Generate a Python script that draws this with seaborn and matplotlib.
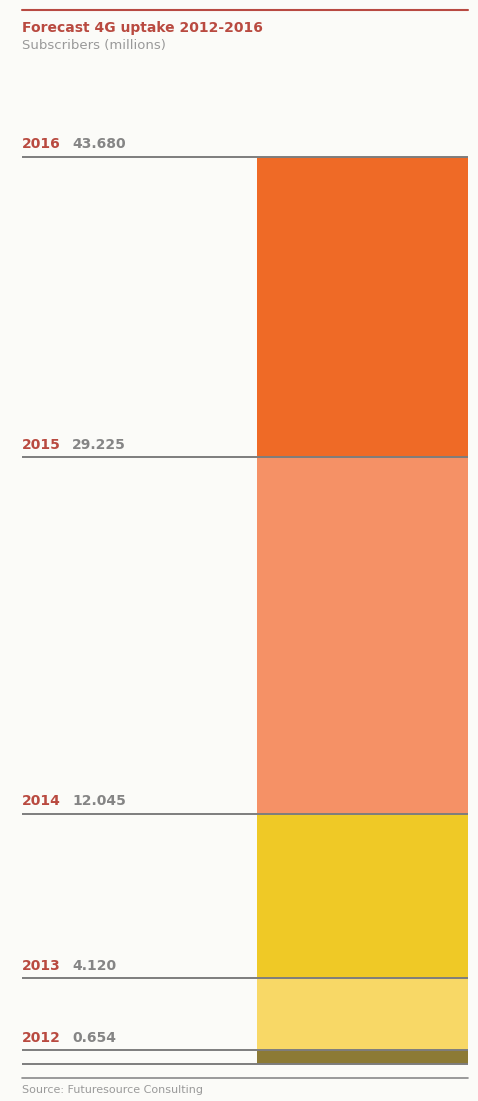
import matplotlib
matplotlib.use("Agg")
import matplotlib.pyplot as plt
import seaborn as sns
import pandas as pd

# Data: cumulative 4G subscribers (millions)
years = ["2012", "2013", "2014", "2015", "2016"]
subscribers = [0.654, 4.120, 12.045, 29.225, 43.680]
value_labels = ["0.654", "4.120", "12.045", "29.225", "43.680"]
seg_colors = ["#8c7a35", "#f8d866", "#efc926", "#f59166", "#ef6a26"]

sns.set_style("white")
plt.rcParams["font.family"] = ["DejaVu Sans"]

bg = "#fbfbf8"
red = "#b94a40"
grey = "#858585"
line_grey = "#7d7d7d"

W, H = 478, 1101
fig = plt.figure(figsize=(W / 100, H / 100), dpi=100, facecolor=bg)

# axes spans x 22..468 px, y 0 at ~1064 px, 43.68 at 157 px
y0_px, ytop_px = 1064, 157
ax_left, ax_right = 22, 468
ax_top_px = 150
ax_bot_px = 1070
scale = (y0_px - ytop_px) / subscribers[-1]
ymax = (y0_px - ax_top_px) / scale
ymin = -(ax_bot_px - y0_px) / scale
ax = fig.add_axes([ax_left / W, 1 - ax_bot_px / H, (ax_right - ax_left) / W,
                   (ax_bot_px - ax_top_px) / H])
ax.set_facecolor(bg)

df = pd.DataFrame({"year": years, "subscribers": subscribers})

# layered bars, tallest first so the smaller totals sit on top
for i in range(len(years) - 1, -1, -1):
    sns.barplot(x=["all"], y=[df["subscribers"][i]], color=seg_colors[i],
                width=0.8, saturation=1, ax=ax, edgecolor="none")

bar_half = 0.4
frac = (468 - 257) / (ax_right - ax_left)
left = bar_half - 2 * bar_half / frac
ax.set_xlim(left, bar_half)
ax.set_ylim(ymin, ymax)
ax.axis("off")

# horizontal rules and labels at each level
for yr, v, lab in zip(years, subscribers, value_labels):
    ax.axhline(v, color=line_grey, lw=1.4, zorder=5)
    ax.annotate(yr, xy=(0, v), xycoords=("axes fraction", "data"),
                xytext=(0, 4), textcoords="offset points",
                color=red, fontsize=10, fontweight="bold", va="bottom", ha="left")
    ax.annotate(lab, xy=((72 - ax_left) / (ax_right - ax_left), v),
                xycoords=("axes fraction", "data"),
                xytext=(0, 4), textcoords="offset points",
                color=grey, fontsize=10, fontweight="bold", va="bottom", ha="left")
ax.axhline(0, color=line_grey, lw=1.4, zorder=5)

# header
fig.add_artist(plt.Line2D([22 / W, 468 / W], [1 - 10 / H, 1 - 10 / H],
                          color="#b84a42", lw=1.5))
fig.text(22 / W, 1 - 28 / H, "Forecast 4G uptake 2012-2016", color=red,
         fontsize=10, fontweight="bold", va="center", ha="left")
fig.text(22 / W, 1 - 45 / H, "Subscribers (millions)", color="#999999",
         fontsize=9.5, va="center", ha="left")

# footer
fig.add_artist(plt.Line2D([22 / W, 468 / W], [1 - 1078 / H, 1 - 1078 / H],
                          color="#8a8a8a", lw=1.2))
fig.text(22 / W, 1 - 1090 / H, "Source: Futuresource Consulting", color="#9a9a9a",
         fontsize=8, va="center", ha="left")

fig.savefig("out.png", dpi=100, facecolor=bg)
